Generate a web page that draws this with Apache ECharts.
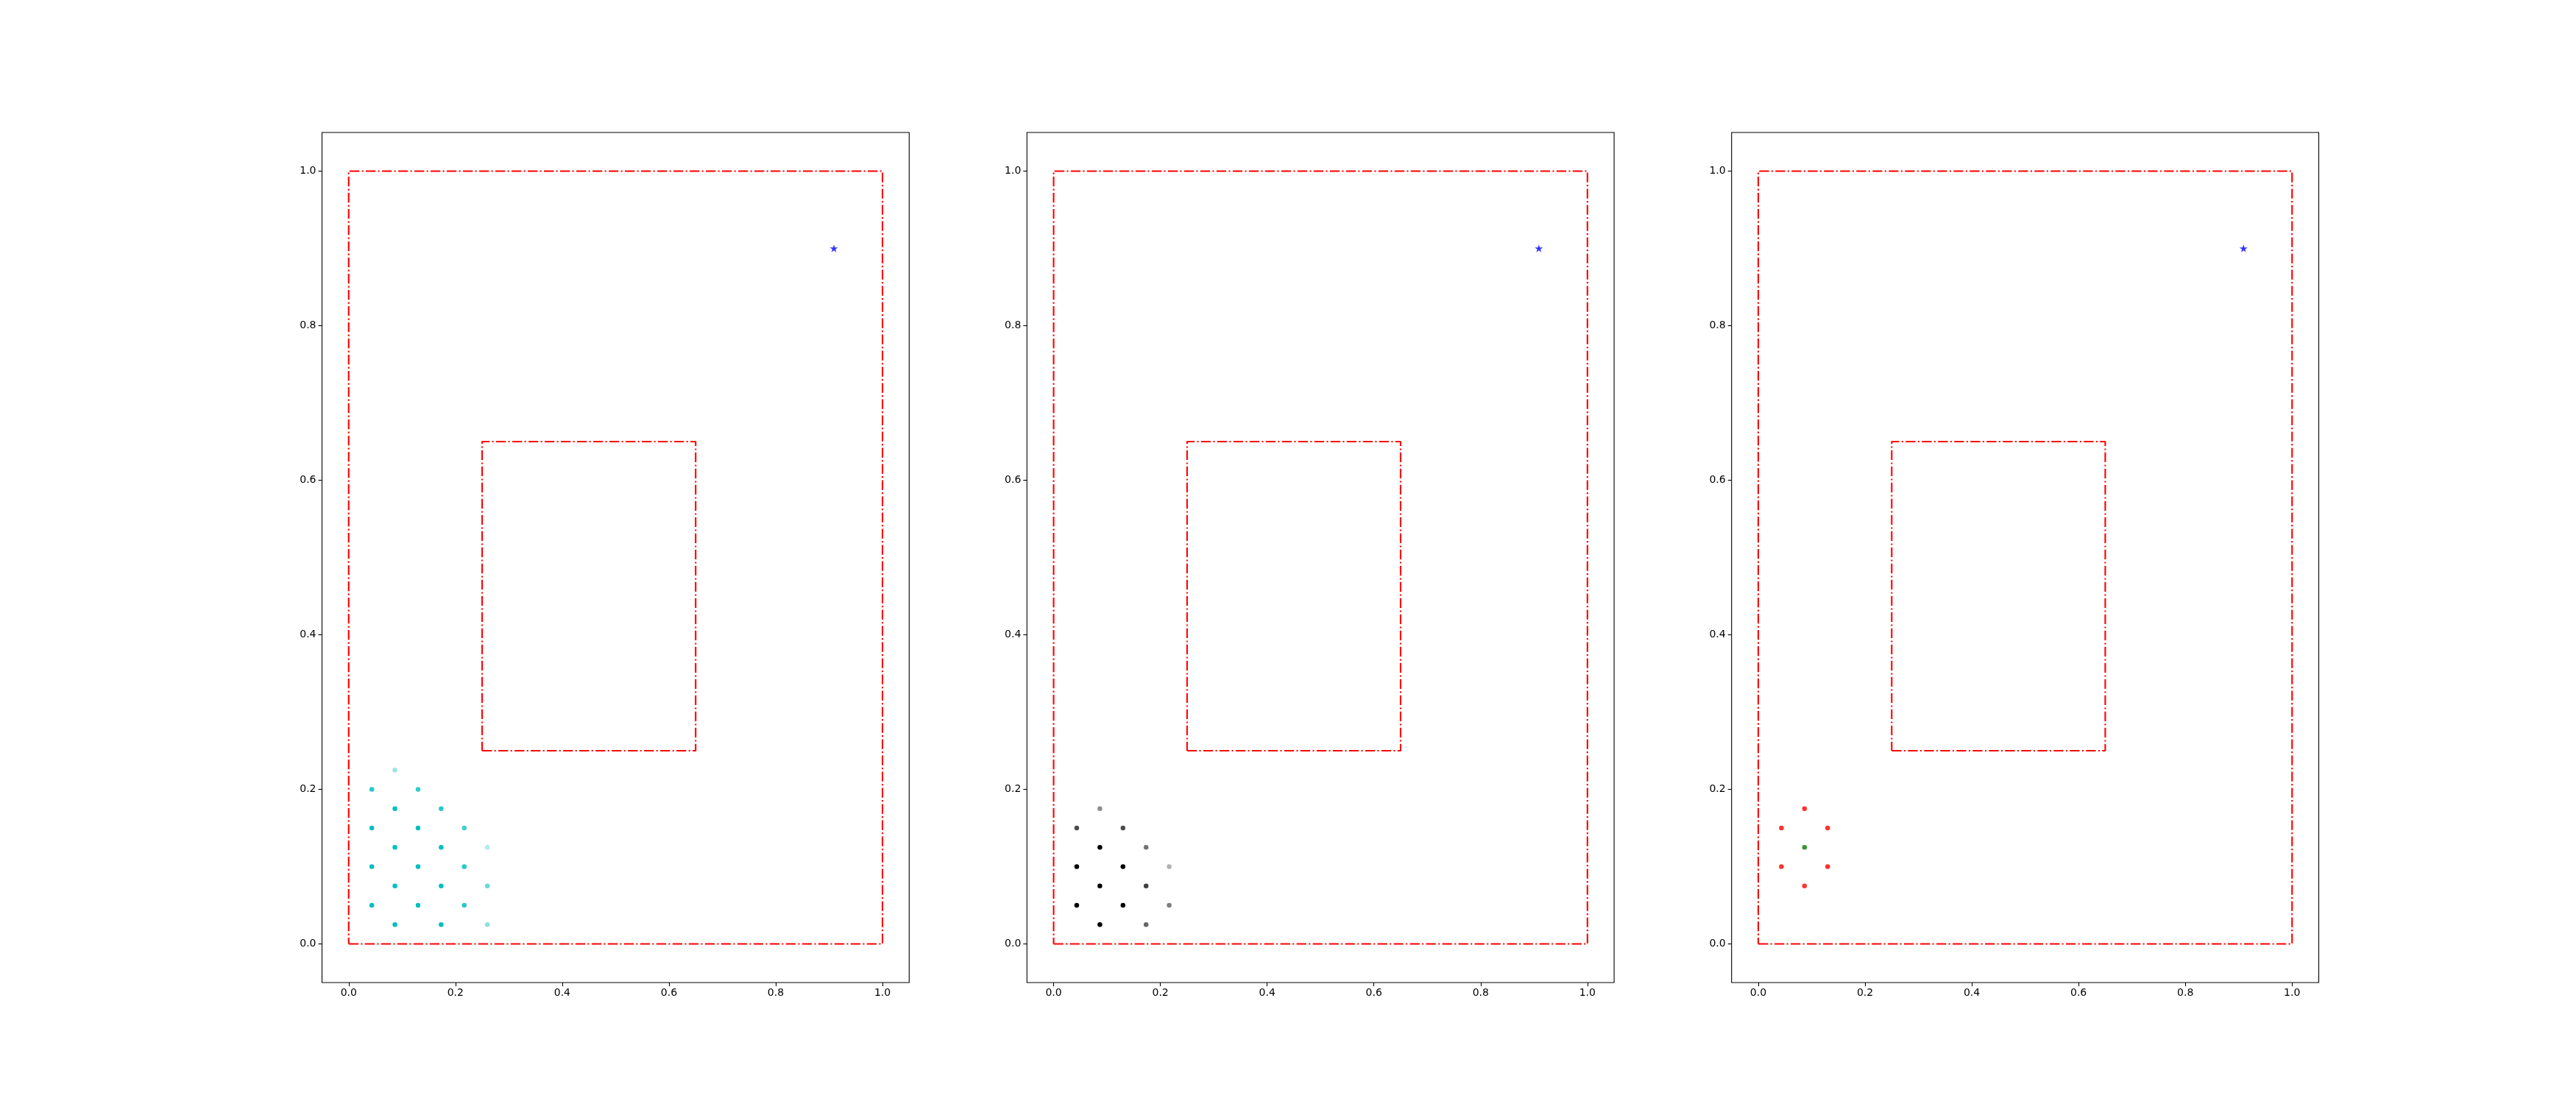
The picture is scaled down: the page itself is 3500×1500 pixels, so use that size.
<!DOCTYPE html>
<html>
<head>
<meta charset="utf-8">
<script src="https://cdn.jsdelivr.net/npm/echarts@6/dist/echarts.min.js"></script>
<style>html,body{margin:0;padding:0;background:#fff;}#main{width:3500px;height:1500px;}</style>
</head>
<body>
<div id="main"></div>
<script>
// ---- data ----
const tickValues = [0, 0.2, 0.4, 0.6, 0.8, 1.0];
const outerRectX = [0, 1, 1, 0, 0];
const outerRectY = [0, 0, 1, 1, 0];
const innerRectX = [0.25, 0.65, 0.65, 0.25, 0.25];
const innerRectY = [0.25, 0.25, 0.65, 0.65, 0.25];
const starX = [0.909];
const starY = [0.9];

// panel 1 (cyan lattice)
const p1X = [0.0433,0.0433,0.0433,0.0433, 0.0866,0.0866,0.0866,0.0866,0.0866, 0.1299,0.1299,0.1299,0.1299, 0.1732,0.1732,0.1732,0.1732, 0.2165,0.2165,0.2165, 0.2598,0.2598,0.2598];
const p1Y = [0.2,0.15,0.1,0.05, 0.225,0.175,0.125,0.075,0.025, 0.2,0.15,0.1,0.05, 0.175,0.125,0.075,0.025, 0.15,0.1,0.05, 0.125,0.075,0.025];
const p1W = [0.85,1,1,1, 0.4,1,1,1,1, 0.8,1,1,1, 0.85,1,1,1, 0.75,0.85,0.85, 0.3,0.6,0.45];

// panel 2 (black lattice)
const p2X = [0.0866,0.0433,0.1299,0.0866,0.1732,0.0433,0.1299,0.2165,0.0866,0.1732,0.0433,0.1299,0.2165,0.0866,0.1732];
const p2Y = [0.175,0.15,0.15,0.125,0.125,0.1,0.1,0.1,0.075,0.075,0.05,0.05,0.05,0.025,0.025];
const p2W = [0.45,0.7,0.7,1,0.55,1,1,0.3,1,0.75,1,1,0.5,1,0.6];

// panel 3 (red neighbours + green centre)
const p3X = [0.0866,0.0433,0.1299,0.0433,0.1299,0.0866];
const p3Y = [0.175,0.15,0.15,0.1,0.1,0.075];
const p3CenterX = [0.0866];
const p3CenterY = [0.125];

// ---- chart ----
const zip = (xs, ys) => xs.map((x, i) => [x, ys[i]]);
const gridLeft = [437.5, 1395.3, 2352.7];
const gridW = 797.8, gridTop = 180, gridH = 1155;
const dash = [13.3, 3.3, 2.1, 3.3];
const starPath = 'path://M0,-1L0.2245,-0.309L0.951,-0.309L0.363,0.118L0.588,0.809L0,0.382L-0.588,0.809L-0.363,0.118L-0.951,-0.309L-0.2245,-0.309Z';

const grids = [], xAxes = [], yAxes = [], series = [];
function axis(idx, isX) {
  return {
    type: 'value', gridIndex: idx, min: -0.05, max: 1.05,
    position: isX ? 'bottom' : 'left',
    axisLine: { show: false, onZero: false },
    splitLine: { show: false },
    axisTick: { show: true, inside: false, length: 5, customValues: tickValues,
      lineStyle: { color: '#000', width: 1.1 } },
    axisLabel: { show: true, customValues: tickValues, margin: isX ? 7 : 8,
      formatter: v => v.toFixed(1),
      color: '#000', fontFamily: 'DejaVu Sans', fontSize: 14 }
  };
}
for (let i = 0; i < 3; i++) {
  grids.push({ left: gridLeft[i], top: gridTop, width: gridW, height: gridH,
    show: true, borderColor: '#000', borderWidth: 1.1, backgroundColor: '#fff' });
  xAxes.push(axis(i, true));
  yAxes.push(axis(i, false));
  [[outerRectX, outerRectY], [innerRectX, innerRectY]].forEach(r => {
    series.push({ type: 'line', xAxisIndex: i, yAxisIndex: i, data: zip(r[0], r[1]),
      symbol: 'none', silent: true, animation: false, z: 2,
      lineStyle: { color: '#ff0000', width: 2.1, type: dash, cap: 'butt' } });
  });
  series.push({ type: 'scatter', xAxisIndex: i, yAxisIndex: i, data: zip(starX, starY),
    symbol: starPath, symbolKeepAspect: true, symbolSize: 11, animation: false, z: 4,
    itemStyle: { color: '#0000ff' } });
}
function weighted(xs, ys, ws, color) {
  return xs.map((x, i) => ({ value: [x, ys[i]], itemStyle: { color: color, opacity: ws[i] } }));
}
series.push({ type: 'scatter', xAxisIndex: 0, yAxisIndex: 0, symbolSize: 6.5, animation: false, z: 3,
  data: weighted(p1X, p1Y, p1W, '#00bfbf') });
series.push({ type: 'scatter', xAxisIndex: 1, yAxisIndex: 1, symbolSize: 6.5, animation: false, z: 3,
  data: weighted(p2X, p2Y, p2W, '#000000') });
series.push({ type: 'scatter', xAxisIndex: 2, yAxisIndex: 2, symbolSize: 6.5, animation: false, z: 3,
  data: zip(p3X, p3Y), itemStyle: { color: '#ff0000' } });
series.push({ type: 'scatter', xAxisIndex: 2, yAxisIndex: 2, symbolSize: 6.5, animation: false, z: 3,
  data: zip(p3CenterX, p3CenterY), itemStyle: { color: '#008000' } });

const chart = echarts.init(document.getElementById('main'), null, { renderer: 'canvas' });
chart.setOption({ backgroundColor: '#fff', animation: false, grid: grids, xAxis: xAxes, yAxis: yAxes, series: series });
</script>
</body>
</html>
